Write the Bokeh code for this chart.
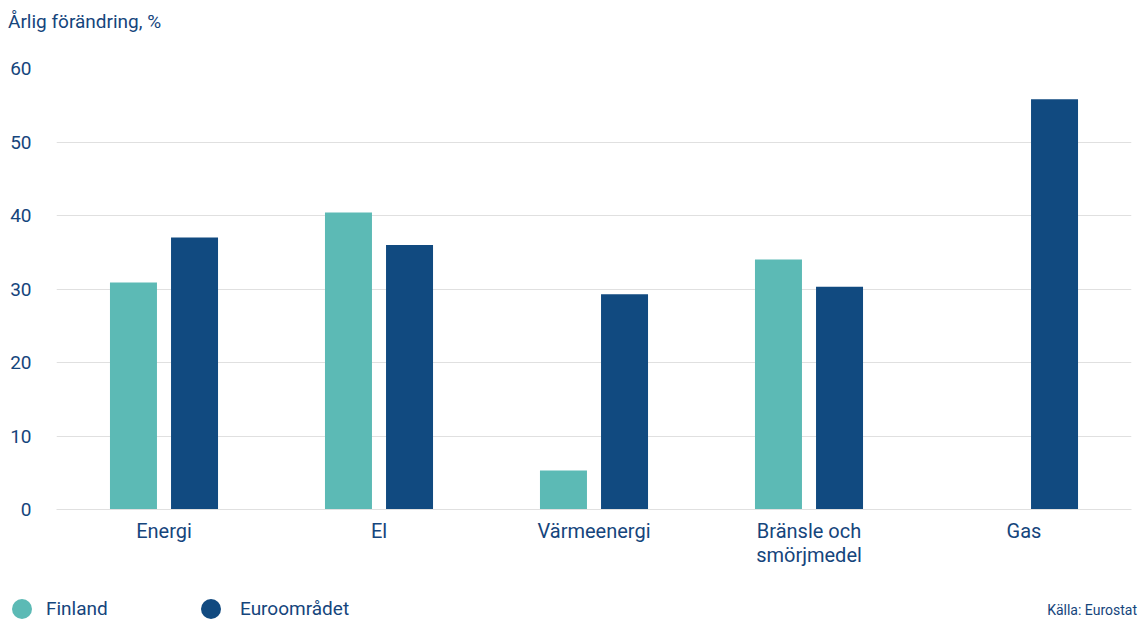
from bokeh.plotting import figure
from bokeh.layouts import column
from bokeh.models import ColumnDataSource, FactorRange, Range1d, FixedTicker, Div
from bokeh.transform import dodge
from bokeh.embed import file_html
from bokeh.resources import INLINE

categories = ["Energi", "El", "Värmeenergi", "Bränsle och\nsmörjmedel", "Gas"]
finland = [30.9, 40.4, 5.3, 34.0, float("nan")]
euro = [37.0, 36.0, 29.3, 30.3, 55.8]
y_ticks = [0, 10, 20, 30, 40, 50, 60]
series_names = ["Finland", "Euroområdet"]
title_text = "Årlig förändring, %"
source_text = "Källa: Eurostat"

FONT = "Roboto"
TXT = "#15457c"
C_FI = "#5cbab5"
C_EU = "#114a80"
GRID = "#e0e0e0"
W = 1142

# ---- title row (HTML text) ----
title_html = (
    f'<div style="position:relative;width:{W}px;height:50px;margin:0;padding:0;">'
    f'<span style="position:absolute;left:8px;top:11px;line-height:22px;white-space:nowrap;'
    f'font-family:{FONT};font-size:19px;color:{TXT};">{title_text}</span></div>'
)
top = Div(text=title_html, width=W, height=50, margin=0)

# ---- main chart ----
src = ColumnDataSource(dict(cat=categories, fi=finland, eu=euro))
p = figure(width=W, height=525, output_backend="svg", toolbar_location=None,
           x_range=FactorRange(*categories, range_padding=0),
           y_range=Range1d(0, 60),
           min_border_left=56, min_border_right=11, min_border_top=18, min_border_bottom=66)
p.outline_line_color = None

p.vbar(x=dodge("cat", -0.142, range=p.x_range), top="fi", width=0.2186, source=src,
       fill_color=C_FI, line_color=None)
p.vbar(x=dodge("cat", 0.142, range=p.x_range), top="eu", width=0.2186, source=src,
       fill_color=C_EU, line_color=None)

p.xgrid.grid_line_color = None
p.ygrid.grid_line_color = GRID
p.ygrid.ticker = FixedTicker(ticks=y_ticks)
p.yaxis.ticker = FixedTicker(ticks=y_ticks)
for ax in (p.xaxis[0], p.yaxis[0]):
    ax.major_tick_line_color = None
    ax.minor_tick_line_color = None
    ax.major_tick_in = 0
    ax.major_tick_out = 0
    ax.minor_tick_out = 0
    ax.major_label_text_font = FONT
    ax.major_label_text_color = TXT
p.yaxis.major_label_text_font_size = "19px"
p.xaxis.major_label_text_font_size = "20px"
p.xaxis.major_label_text_line_height = 1.0
p.yaxis.axis_line_color = None
p.yaxis.major_label_standoff = 25
p.xaxis.axis_line_color = GRID
p.xaxis.major_label_standoff = 9

# ---- legend / source row (HTML) ----
colors = [C_FI, C_EU]
circle_left = [12, 201]
text_left = [46, 240]
parts = []
for name, c, cl, tl in zip(series_names, colors, circle_left, text_left):
    parts.append(f'<span style="position:absolute;left:{cl}px;top:24px;width:20px;height:20px;'
                 f'border-radius:50%;background:{c};"></span>')
    parts.append(f'<span style="position:absolute;left:{tl}px;top:23px;line-height:22px;white-space:nowrap;'
                 f'font-family:{FONT};font-size:19px;color:{TXT};">{name}</span>')
parts.append(f'<span style="position:absolute;right:5px;top:27px;line-height:16px;white-space:nowrap;'
             f'font-family:{FONT};font-size:14px;color:{TXT};">{source_text}</span>')
bot_html = (f'<div style="position:relative;width:{W}px;height:44px;margin:0;padding:0;">'
            + "".join(parts) + '</div>')
bot = Div(text=bot_html, width=W, height=44, margin=0)

layout = column(top, p, bot, spacing=0)
open("out.html", "w").write(file_html(layout, INLINE))
